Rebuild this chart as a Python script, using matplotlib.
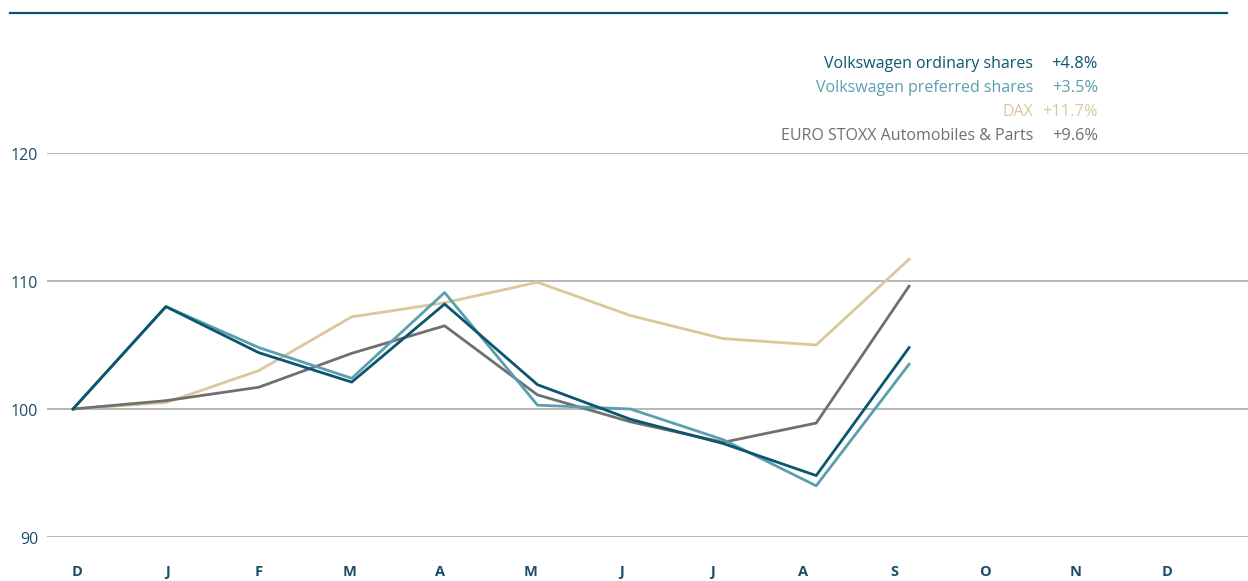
import matplotlib.pyplot as plt
from matplotlib.lines import Line2D

months = ['D', 'J', 'F', 'M', 'A', 'M', 'J', 'J', 'A', 'S', 'O', 'N', 'D']

# index values, end of month (December = 100)
vw_ordinary = [100, 108.0, 104.4, 102.1, 108.2, 101.9, 99.2, 97.3, 94.8, 104.8]
vw_preferred = [100, 108.0, 104.8, 102.4, 109.1, 100.3, 100.0, 97.6, 94.0, 103.5]
dax = [100, 100.5, 103.0, 107.2, 108.3, 109.9, 107.3, 105.5, 105.0, 111.7]
stoxx_auto = [100, 100.65, 101.7, 104.35, 106.5, 101.1, 99.0, 97.4, 98.9, 109.6]

names = ['Volkswagen ordinary shares', 'Volkswagen preferred shares', 'DAX',
         'EURO STOXX Automobiles & Parts']
changes = ['+4.8%', '+3.5%', '+11.7%', '+9.6%']
yticks = [90, 100, 110, 120]

c_ord = '#0b5570'
c_pref = '#5a9fb0'
c_dax = '#dcc79d'
c_stoxx = '#6f6f6f'
c_text = '#1b4f68'

plt.rcParams['font.family'] = ['Open Sans', 'DejaVu Sans']

fig = plt.figure(figsize=(12.48, 5.81), dpi=100)
W, H = 1248, 581
# axes: x from px 47 to 1248, y from 90 (px 537) to 120 (px 153)
ax = fig.add_axes([47 / W, 1 - 537 / H, (1248 - 47) / W, (537 - 153) / H])

step = 92.9  # px per data month
x0 = 73
xs = list(range(len(vw_ordinary)))
ax.set_xlim((47 - x0) / step, (1248 - x0) / step)
ax.set_ylim(90, 120)

for y in yticks:
    ax.axhline(y, color='#a3a3a3', lw=1.1, zorder=1)

ax.plot(xs, dax, color=c_dax, lw=2.0, zorder=2)
ax.plot(xs, stoxx_auto, color=c_stoxx, lw=2.0, zorder=3)
ax.plot(xs, vw_preferred, color=c_pref, lw=2.0, zorder=4)
ax.plot(xs, vw_ordinary, color=c_ord, lw=2.0, zorder=5)

for s in ax.spines.values():
    s.set_visible(False)
ax.set_xticks([])
ax.set_yticks([])

# y labels
for y in yticks:
    ax.text((38 - x0) / step, y - 2.5 / 12.8, str(y), ha='right', va='center',
            fontsize=11.5, color=c_text, clip_on=False)

# month labels (spacing slightly narrower than data spacing)
label_step = 90.8 / step
label_off = (77 - x0) / step
for i, m in enumerate(months):
    ax.text(label_off + i * label_step, 90 - 35 / 12.8, m, ha='center', va='center',
            fontsize=10.5, fontweight='bold', color=c_text, clip_on=False)

# top rule
fig.add_artist(Line2D([10 / W, 1227 / W], [1 - 12.5 / H, 1 - 12.5 / H],
                      color=c_ord, lw=1.6))

# legend text
cols = [c_ord, c_pref, c_dax, c_stoxx]
for k, (n, v, c) in enumerate(zip(names, changes, cols)):
    yy = 1 - (62 + 24 * k) / H
    fig.text(1033 / W, yy, n, ha='right', va='center_baseline', fontsize=11.5, color=c)
    fig.text(1098 / W, yy, v, ha='right', va='center_baseline', fontsize=11.8, color=c)

fig.savefig('out.png', dpi=100)
